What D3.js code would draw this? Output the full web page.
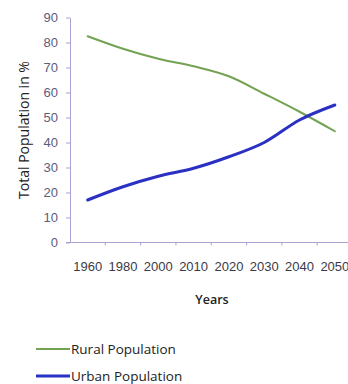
<!DOCTYPE html>
<html>
<head>
<meta charset="utf-8">
<script src="https://cdn.jsdelivr.net/npm/d3@7"></script>
<style>
  html, body { margin: 0; padding: 0; background: #fff; }
  svg { display: block; font-family: "Open Sans", sans-serif; }
</style>
</head>
<body>
<svg id="chart" width="348" height="384"></svg>
<script>
// Share of total population living in rural vs. urban areas
const years = ["1960", "1980", "2000", "2010", "2020", "2030", "2040", "2050"];
const rural = [82.5, 77.5, 73.5, 70.5, 66.5, 59.5, 52.3, 44.5];
const urban = [17, 22.3, 26.5, 29.7, 34.3, 40, 49, 55];
const yTicks = [0, 10, 20, 30, 40, 50, 60, 70, 80, 90];

const svg = d3.select("#chart");
const axisColor = "#a9a2d2";
const tickTextColor = "#5c5c7c";

const x = d3.scaleBand().domain(years).range([70, 352.5]).padding(0);
const y = d3.scaleLinear().domain([0, 90]).range([242.5, 17.5]);

// Y axis
const yAxis = svg.append("g")
  .attr("transform", "translate(70,0)")
  .call(d3.axisLeft(y).tickValues(yTicks).tickSize(4).tickPadding(8).tickSizeOuter(0));
yAxis.select(".domain").attr("stroke", axisColor);
yAxis.selectAll(".tick line").attr("stroke", axisColor);
yAxis.selectAll(".tick text")
  .attr("fill", tickTextColor)
  .style("font-size", "13px");

// X axis: labels centred in each band, ticks on band boundaries
const xAxis = svg.append("g")
  .attr("transform", "translate(0,242.5)")
  .call(d3.axisBottom(x).tickSize(0).tickPadding(19));
xAxis.select(".domain").remove();
xAxis.selectAll(".tick text")
  .attr("fill", "#3a3a48")
  .style("font-size", "13px");
xAxis.append("line")
  .attr("x1", 66).attr("x2", 352.5)
  .attr("stroke", axisColor);
xAxis.selectAll(".bound")
  .data(years)
  .join("line")
  .attr("class", "bound")
  .attr("x1", d => x(d) + x.bandwidth())
  .attr("x2", d => x(d) + x.bandwidth())
  .attr("y1", 0).attr("y2", 3)
  .attr("stroke", axisColor);

// Axis titles
svg.append("text")
  .attr("transform", "translate(29,130) rotate(-90)")
  .attr("text-anchor", "middle")
  .attr("fill", "#222")
  .style("font-size", "14px")
  .text("Total Population in %");

svg.append("text")
  .attr("x", 212).attr("y", 304)
  .attr("text-anchor", "middle")
  .attr("fill", "#222")
  .style("font-size", "12.5px")
  .style("font-weight", "600")
  .text("Years");

// Series lines
const cx = d => x(d) + x.bandwidth() / 2;
const line = d3.line().curve(d3.curveMonotoneX);

const series = [
  { name: "Rural Population", values: rural, color: "#74a253", width: 2 },
  { name: "Urban Population", values: urban, color: "#2a30c4", width: 3 }
];

series.forEach(s => {
  svg.append("path")
    .attr("d", line(years.map((yr, i) => [cx(yr), y(s.values[i])])))
    .attr("fill", "none")
    .attr("stroke", s.color)
    .attr("stroke-width", s.width)
    .attr("stroke-linecap", "round");
});

// Legend
const legend = svg.append("g");
series.forEach((s, i) => {
  const ly = 349 + i * 27;
  legend.append("line")
    .attr("x1", 36).attr("x2", 70)
    .attr("y1", ly).attr("y2", ly)
    .attr("stroke", s.color)
    .attr("stroke-width", s.width);
  legend.append("text")
    .attr("x", 71).attr("y", ly + 5)
    .attr("fill", "#222")
    .style("font-size", "13.5px")
    .text(s.name);
});
</script>
</body>
</html>
